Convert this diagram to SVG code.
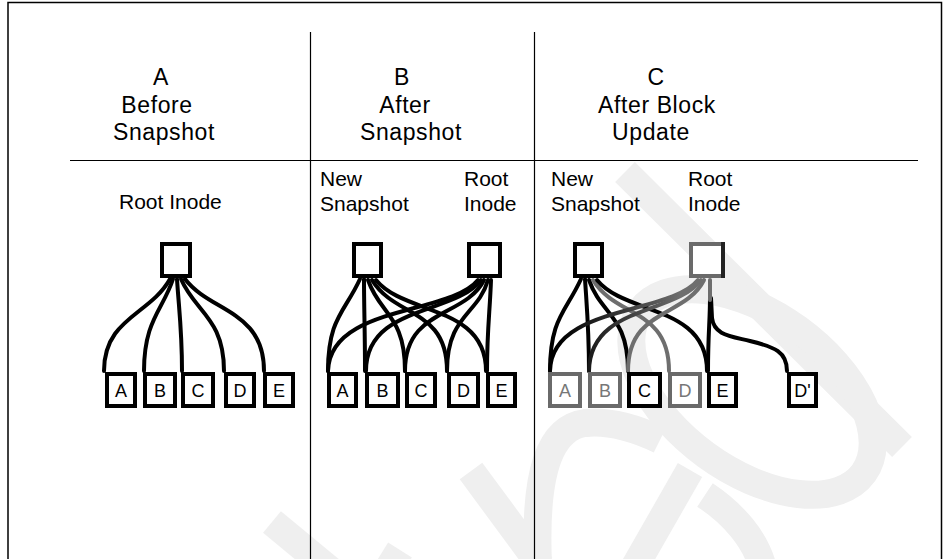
<svg xmlns="http://www.w3.org/2000/svg" width="944" height="559" viewBox="0 0 944 559">
  <style>
    .frame { stroke: #000; stroke-width: 1.5; fill: none; }
    .rule { stroke: #000; stroke-width: 1.2; fill: none; }
    .head { font-family: "Liberation Sans", Arial, sans-serif; font-size: 23px; letter-spacing: 0.6px; fill: #000; text-anchor: middle; }
    .lbl { font-family: "Liberation Sans", Arial, sans-serif; font-size: 21px; fill: #000; }
    .box { fill: #fff; stroke: #000; stroke-width: 4; }
    .box.dim { stroke: #6a6a6a; }
    .leaf text { font-family: "Liberation Sans", Arial, sans-serif; font-size: 18px; text-anchor: middle; fill: #000; }
    .leaf.dim text { fill: #777; }
    .wire { fill: none; stroke: #000; stroke-width: 4; stroke-linecap: round; }
    .wire.dim { stroke: #6e6e6e; }
    .wire.fade { stroke: url(#fadeToRoot); }
    .mark { fill: none; stroke: #efefef; stroke-width: 28; stroke-linecap: butt; }
  </style>
  <defs>
    <!-- old root pointers: dark at the block end, grey toward the updated root -->
    <linearGradient id="fadeToRoot" gradientUnits="userSpaceOnUse" x1="560" y1="0" x2="680" y2="0">
      <stop offset="0" stop-color="#000"/>
      <stop offset="1" stop-color="#6e6e6e"/>
    </linearGradient>
  </defs>

  <rect width="944" height="559" fill="#fff"/>

  <!-- faint background mark -->
  <g id="backdrop">
    <path class="mark" d="M625,172 L902,447"/>
    <ellipse class="mark" cx="752" cy="392" rx="138" ry="78" transform="rotate(36 752 392)"/>
    <path class="mark" d="M538,565 C534,470 550,428 585,423 C610,420 640,430 660,440"/>
    <path class="mark" d="M471,471 L541,566"/>
    <path class="mark" d="M272,522 L330,570"/>
    <path class="mark" d="M400,550 L372,595"/>
    <path class="mark" d="M630,575 L690,470"/>
    <path class="mark" d="M705,495 C735,515 755,540 762,565"/>
  </g>

  <!-- frame and panel rules -->
  <g id="layout">
    <path class="frame" d="M8,559 V2.5 H941.5 V559"/>
    <line class="rule" x1="310.5" y1="32" x2="310.5" y2="559"/>
    <line class="rule" x1="534.5" y1="32" x2="534.5" y2="559"/>
    <line class="rule" x1="70" y1="160.5" x2="918" y2="160.5"/>
  </g>

  <!-- column headings -->
  <g id="headings">
    <text class="head" x="161" y="85">A</text>
    <text class="head" x="157" y="112.5">Before</text>
    <text class="head" x="164" y="140">Snapshot</text>
    <text class="head" x="402" y="85">B</text>
    <text class="head" x="405" y="112.5">After</text>
    <text class="head" x="411" y="140">Snapshot</text>
    <text class="head" x="656" y="85">C</text>
    <text class="head" x="657" y="112.5">After Block</text>
    <text class="head" x="651" y="140">Update</text>
  </g>

  <!-- node captions -->
  <g id="captions">
    <text class="lbl" x="119" y="209">Root Inode</text>
    <text class="lbl" x="320" y="186">New</text>
    <text class="lbl" x="320" y="211">Snapshot</text>
    <text class="lbl" x="464" y="186">Root</text>
    <text class="lbl" x="464" y="211">Inode</text>
    <text class="lbl" x="551" y="186">New</text>
    <text class="lbl" x="551" y="211">Snapshot</text>
    <text class="lbl" x="688" y="186">Root</text>
    <text class="lbl" x="688" y="211">Inode</text>
  </g>

  <!-- pointers from inodes to data blocks -->
  <g id="connectors">
    <!-- A: before snapshot -->
    <path class="wire" d="M170,279 C150,315 104,318 104,371"/>
    <path class="wire" d="M173,279 C163,310 144,320 144,371"/>
    <path class="wire" d="M177,279 C179,310 182,330 182,371"/>
    <path class="wire" d="M181,279 C195,312 224,318 224,371"/>
    <path class="wire" d="M185,279 C210,312 264,310 264,371"/>
    <!-- B: new snapshot -->
    <path class="wire" d="M360,279 C345,312 328,318 328,371"/>
    <path class="wire" d="M364,279 C364,310 365,330 365,371"/>
    <path class="wire" d="M368,280 C380,315 405,315 405,371"/>
    <path class="wire" d="M372,280 C395,318 447,308 447,371"/>
    <path class="wire" d="M376,280 C404,315 486,305 486,371"/>
    <!-- B: root inode -->
    <path class="wire" d="M478,280 C450,315 330,305 328,371"/>
    <path class="wire" d="M481,280 C455,315 366,305 366,371"/>
    <path class="wire" d="M484,280 C465,318 405,308 405,371"/>
    <path class="wire" d="M488,280 C478,315 447,315 447,371"/>
    <path class="wire" d="M491,280 C490,310 487,330 487,371"/>
    <!-- C: new snapshot -->
    <path class="wire" d="M581,279 C566,312 550,318 550,371"/>
    <path class="wire" d="M585,279 C587,310 589,330 589,371"/>
    <path class="wire" d="M589,280 C601,315 628,315 628,371"/>
    <path class="wire dim" d="M593,280 C616,318 669,308 669,371"/>
    <path class="wire" d="M597,280 C625,315 707,305 707,371"/>
    <!-- C: root inode after block update -->
    <path class="wire fade" d="M698,280 C670,315 551,305 550,371"/>
    <path class="wire fade" d="M701,280 C675,315 590,305 589,371"/>
    <path class="wire dim" d="M704,280 C685,318 628,308 628,371"/>
    <path class="wire" d="M710,298 C710,320 708,335 708,371"/>
    <path class="wire" d="M711,298 L712,318 C714,335 730,336 750,341 C775,347 787,352 787,371"/>
    <path class="wire dim" d="M710,280 L710,300"/>
  </g>

  <!-- inode boxes -->
  <g id="inode-a-root"><rect class="box" x="162" y="244" width="28" height="32"/></g>
  <g id="inode-b-snap"><rect class="box" x="354" y="244" width="27" height="32"/></g>
  <g id="inode-b-root"><rect class="box" x="469" y="244" width="31" height="32"/></g>
  <g id="inode-c-snap"><rect class="box" x="575" y="244" width="27" height="32"/></g>
  <g id="inode-c-root">
    <rect class="box dim" x="691" y="244" width="32" height="32"/>
    <line x1="723" y1="242" x2="723" y2="278" stroke="#222" stroke-width="4"/>
  </g>

  <!-- data blocks, panel A -->
  <g id="a-blk-a" class="leaf"><rect class="box" x="107" y="374" width="28" height="32"/><text x="121" y="397">A</text></g>
  <g id="a-blk-b" class="leaf"><rect class="box" x="145" y="374" width="30" height="32"/><text x="160" y="397">B</text></g>
  <g id="a-blk-c" class="leaf"><rect class="box" x="183" y="374" width="30" height="32"/><text x="198" y="397">C</text></g>
  <g id="a-blk-d" class="leaf"><rect class="box" x="226" y="374" width="28" height="32"/><text x="240" y="397">D</text></g>
  <g id="a-blk-e" class="leaf"><rect class="box" x="265" y="374" width="28" height="32"/><text x="279" y="397">E</text></g>

  <!-- data blocks, panel B -->
  <g id="b-blk-a" class="leaf"><rect class="box" x="329" y="374" width="27" height="32"/><text x="342.5" y="397">A</text></g>
  <g id="b-blk-b" class="leaf"><rect class="box" x="367" y="374" width="31" height="32"/><text x="382.5" y="397">B</text></g>
  <g id="b-blk-c" class="leaf"><rect class="box" x="407" y="374" width="28" height="32"/><text x="421" y="397">C</text></g>
  <g id="b-blk-d" class="leaf"><rect class="box" x="449" y="374" width="29" height="32"/><text x="463.5" y="397">D</text></g>
  <g id="b-blk-e" class="leaf"><rect class="box" x="488" y="374" width="27" height="32"/><text x="501.5" y="397">E</text></g>

  <!-- data blocks, panel C -->
  <g id="c-blk-a" class="leaf dim"><rect class="box dim" x="550" y="374" width="30" height="32"/><text x="565" y="397">A</text></g>
  <g id="c-blk-b" class="leaf dim"><rect class="box dim" x="590" y="374" width="30" height="32"/><text x="605" y="397">B</text></g>
  <g id="c-blk-c" class="leaf"><rect class="box" x="629" y="374" width="31" height="32"/><text x="644.5" y="397">C</text></g>
  <g id="c-blk-d" class="leaf dim"><rect class="box dim" x="670" y="374" width="30" height="32"/><text x="685" y="397">D</text></g>
  <g id="c-blk-e" class="leaf"><rect class="box" x="709" y="374" width="27" height="32"/><text x="722.5" y="397">E</text></g>
  <g id="c-blk-d2" class="leaf"><rect class="box" x="789" y="374" width="27" height="32"/><text x="802.5" y="397">D'</text></g>
</svg>
